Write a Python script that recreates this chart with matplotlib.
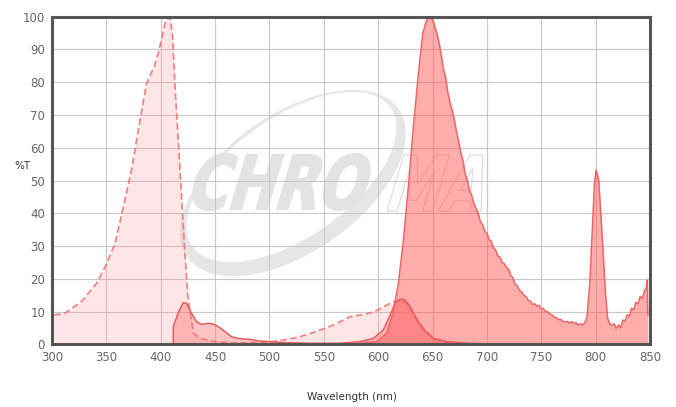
import matplotlib
matplotlib.use("Agg")
import matplotlib.pyplot as plt
from matplotlib.patches import PathPatch
from matplotlib.path import Path
from matplotlib.textpath import TextPath
from matplotlib.font_manager import FontProperties
import matplotlib.transforms as mtransforms
import numpy as np

# ---- data ----
exc_x = [302, 312, 327, 341, 349, 358, 365, 373, 381, 387, 394, 398.5, 402, 404.5, 406.8,
         409, 411, 413, 417.6, 422, 425, 430, 436, 442, 451, 467, 485, 500, 513, 528, 543,
         559, 565, 574, 583, 592, 600, 608, 614, 620, 625, 630, 640, 650, 660, 680]
exc_y = [8.9, 9.5, 13, 18.6, 23.7, 30.8, 41, 53, 68.5, 79.7, 84.7, 89.8, 95, 98.8, 100,
         99, 94, 79.7, 54, 28.8, 14.5, 3.5, 1.8, 1.3, 0.8, 0.4, 0.5, 0.7, 1.3, 2.3, 3.9,
         5.9, 6.9, 8.4, 8.9, 9.5, 10.5, 12, 13, 13.6, 12.8, 10.5, 5.5, 2.0, 0.7, 0.2]

flt_x = [411.5, 411.6, 416, 420.6, 423.7, 428.3, 432.9, 437.5, 443.6, 448.2, 452.9, 459,
         465.2, 471.3, 482, 491.3, 500.5, 513, 540, 565, 583, 595.6, 604.8, 611, 615.6,
         620.2, 624.8, 629.4, 635.6, 643.2, 650.9, 663.2, 683, 700]
flt_y = [0, 5.4, 9.5, 12.7, 12.5, 9.5, 6.9, 6.1, 6.4, 6.2, 5.4, 3.9,
         2.3, 1.8, 1.5, 1.0, 0.8, 0.5, 0.3, 0.3, 0.8, 1.8, 4.4, 8.9, 12.5,
         13.8, 13.5, 11.5, 7.4, 3.9, 1.8, 0.8, 0.3, 0.1]

em_x = [575, 583, 598.7, 607.9, 614, 618.6, 623.2, 627.8, 632.4, 637, 641.1, 644.1, 647.1,
        650.3, 653.9, 656, 658, 660, 662, 664, 666, 668, 670, 672, 674, 676, 678, 680,
        682, 684, 686, 688, 690, 692, 694, 696, 698, 700, 702, 704, 706, 708, 710, 712,
        714, 716, 718, 720, 722, 724, 726, 728, 730, 732, 734, 736, 738, 740, 742, 744,
        746, 748, 750, 752, 754, 756, 758, 760, 762, 764, 766, 768, 770, 772, 774, 776,
        778, 780, 782, 784, 786, 788, 790, 792.1, 794.6, 796.8, 798.9, 800.5, 802.8,
        805.9, 809, 811, 813, 815, 817, 819, 821, 823, 825, 827, 829, 831, 833, 835,
        837, 839, 841, 843, 845, 846.5, 847.5, 848]
em_y = [0, 0.3, 0.8, 3.4, 10, 18.6, 31.8, 48.1, 66.4, 82.7, 95, 98.5, 100,
        99, 95, 92, 88.5, 84, 81.5, 77, 74, 71.5, 68.5, 65, 62, 58.5, 56, 52,
        50, 47, 45.5, 43, 41.5, 40, 37.5, 36.5, 34.5, 34, 32, 31.5, 29.5, 28.8, 27, 26.6,
        25, 24.6, 23.5, 22.8, 21, 20.3, 18.3, 17.8, 16.4, 16.0, 14.9, 14.6, 13.4, 13.2, 12.1, 12.4,
        11.6, 11.9, 10.8, 10.9, 10.0, 9.9, 9.2, 9.0, 8.3, 8.1, 7.5, 7.6, 7.0, 6.8, 7.0, 6.5,
        6.9, 6.4, 6.6, 5.8, 6.3, 5.9, 6.6, 8.4, 18.6, 33.9, 49.1, 53.2, 50.2,
        33.9, 15.6, 8.0, 6.2, 5.8, 6.3, 4.8, 5.9, 5.0, 7.4, 7.0, 9.0, 8.6, 11.0, 10.5,
        12.8, 12.4, 14.6, 14.0, 16.5, 17.0, 19.6, 8.9]

x_ticks = [300, 350, 400, 450, 500, 550, 600, 650, 700, 750, 800, 850]
y_ticks = [0, 10, 20, 30, 40, 50, 60, 70, 80, 90, 100]

# ---- figure ----
W, H = 676, 407
fig = plt.figure(figsize=(W / 100, H / 100), dpi=100)
fig.patch.set_facecolor("white")
ax = fig.add_axes([52 / W, 1 - 344.3 / H, (650 - 52) / W, (344.3 - 16.7) / H])
ax.set_xlim(300, 850)
ax.set_ylim(0, 100)
ax.patch.set_alpha(0)

# pixel transform (image coords, y down)
pix = mtransforms.Affine2D().scale(1 / W, -1 / H).translate(0, 1) + fig.transFigure

# ---- watermark ----
def ell_pts(cx, cy, a, b, ang, n=240, rev=False):
    t = np.linspace(0, 2 * np.pi, n)
    if rev:
        t = t[::-1]
    ca, sa = np.cos(np.radians(ang)), np.sin(np.radians(ang))
    x = a * np.cos(t)
    y = b * np.sin(t)
    return np.column_stack([cx + x * ca - y * sa, cy + x * sa + y * ca])

outer = ell_pts(293, 183, 129, 69, -35)
inner = ell_pts(291.5, 177, 121, 60, -35, rev=True)
verts = np.vstack([outer, inner])
codes = ([Path.MOVETO] + [Path.LINETO] * (len(outer) - 2) + [Path.CLOSEPOLY]) * 2
ax.add_patch(PathPatch(Path(verts, codes), facecolor="#e6e6e6", edgecolor="none",
                       transform=pix, zorder=0.1))

fp = FontProperties(family="DejaVu Sans", weight="bold")

def word_path(word, x_left, y_bottom, total_w, h, slant=0.3):
    tp = TextPath((0, 0), word, size=100, prop=fp)
    e = tp.get_extents()
    w = total_w - slant * h
    tr = (mtransforms.Affine2D()
          .translate(-e.x0, -e.y0)
          .scale(w / e.width, h / e.height)
          .skew(np.arctan(slant), 0)
          .scale(1, -1)
          .translate(x_left, y_bottom))
    return tp.transformed(tr)

ax.add_patch(PathPatch(word_path("CHRO", 187, 210, 189, 56), facecolor="#e3e3e3",
                       edgecolor="#e3e3e3", linewidth=1.6, transform=pix, zorder=0.2))
ax.add_patch(PathPatch(word_path("MA", 387, 211, 111, 56), facecolor="none",
                       edgecolor="#d9d9d9", linewidth=0.8, transform=pix, zorder=0.2))

# grid
ax.set_xticks(x_ticks)
ax.set_yticks(y_ticks)
ax.set_axisbelow(True)
ax.grid(True, color="#c8c8c8", linewidth=0.8)

# excitation
ax.fill_between(exc_x, exc_y, 0, color="#ff9a9a", alpha=0.25, linewidth=0, zorder=2)
ax.plot(exc_x, exc_y, color="#ef7d7d", linestyle=(0, (4, 2)), linewidth=1.2, zorder=3)

# filter curve
ax.fill_between(flt_x, flt_y, 0, color="#ff6a6a", alpha=0.4, linewidth=0, zorder=4)
ax.plot(flt_x, flt_y, color="#e85a5a", linewidth=1.1, zorder=5)

# emission
ax.fill_between(em_x, em_y, 0, color="#ff5a5a", alpha=0.5, linewidth=0, zorder=4)
ax.plot(em_x, em_y, color="#ee6464", linewidth=1.1, zorder=5)

# frame
for s in ax.spines.values():
    s.set_color("#555555")
    s.set_linewidth(2.2)
    s.set_zorder(10)

ax.tick_params(length=0, labelsize=8.5, labelcolor="#666666", pad=5)
ax.set_xticklabels([str(v) for v in x_ticks])
ax.set_yticklabels([str(v) for v in y_ticks])

fig.text(14 / W, 1 - 166 / H, "%T", fontsize=7.5, color="#333333", ha="left", va="center")
fig.text(352 / W, 1 - 397 / H, "Wavelength (nm)", fontsize=7.5, color="#333333",
         ha="center", va="center")

fig.savefig("out.png", dpi=100)
